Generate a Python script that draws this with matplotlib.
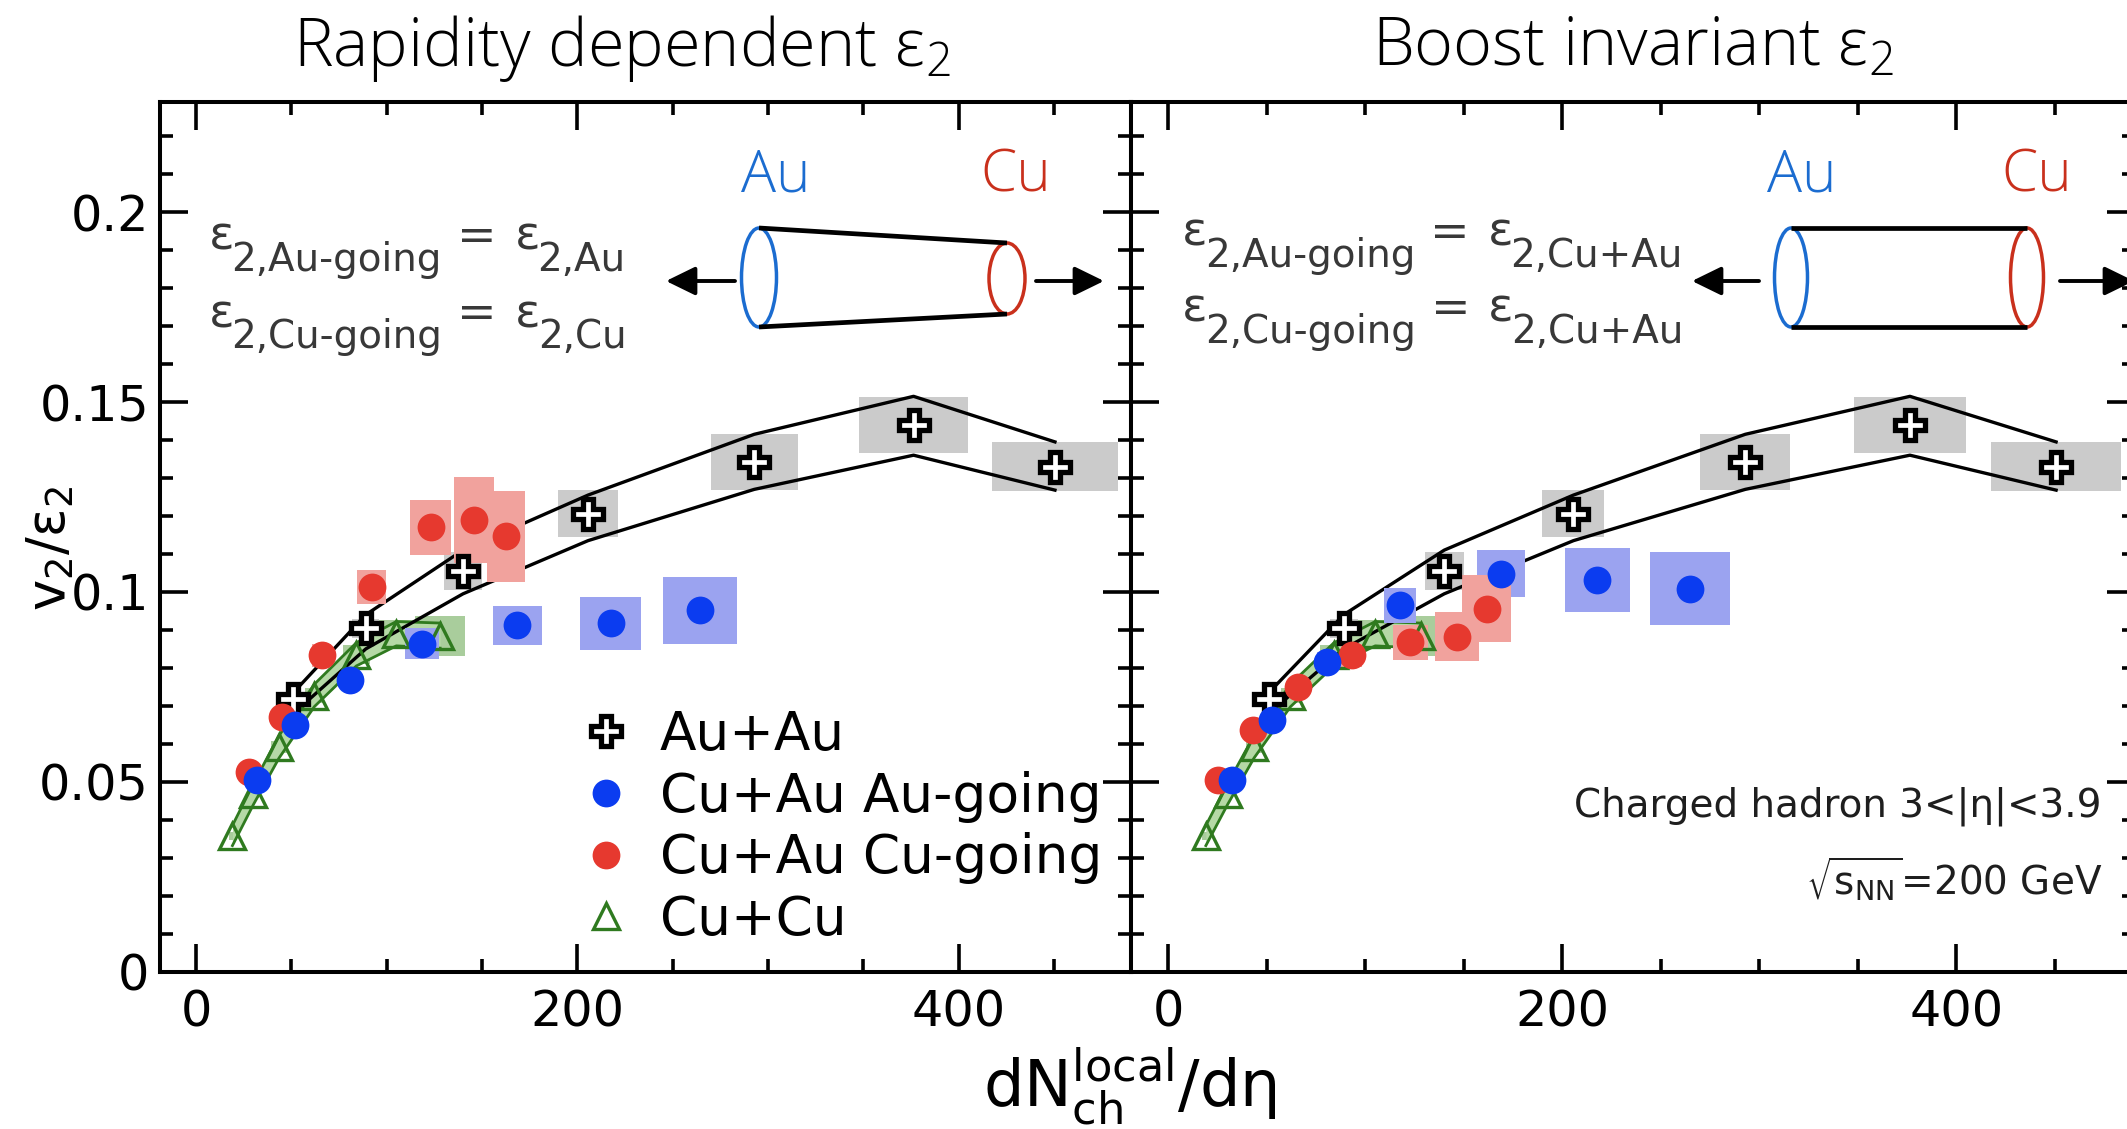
import matplotlib
matplotlib.use("Agg")
import matplotlib.pyplot as plt
from matplotlib.patches import Rectangle, Ellipse
from matplotlib.lines import Line2D
from matplotlib.ticker import MultipleLocator

W, H, DPI = 2127, 1129, 100

plt.rcParams["font.family"] = ["DejaVu Sans"]
plt.rcParams["mathtext.default"] = "regular"

# ---------------- data ----------------
# Au+Au (shared by both panels)
auau_x = [51, 89, 140, 205.6, 292.8, 376.4, 450.6]
auau_y = [0.0717, 0.0904, 0.1055, 0.1206, 0.1342, 0.1439, 0.1329]
auau_sys_w = [10, 14, 20, 31.5, 45.6, 57, 66]
auau_sys_h = [0.004, 0.005, 0.0101, 0.0123, 0.0146, 0.0147, 0.0129]
auau_band_hi = [0.0735, 0.0940, 0.1110, 0.1255, 0.1415, 0.1515, 0.1395]
auau_band_lo = [0.0680, 0.0850, 0.0995, 0.1135, 0.1270, 0.1360, 0.1268]

# Cu+Cu (shared by both panels)
cucu_x = [19, 30, 43.5, 62, 84, 105, 128]
cucu_y = [0.0358, 0.0467, 0.0592, 0.0727, 0.0835, 0.0890, 0.0885]
cucu_hi = [0.0385, 0.0495, 0.0622, 0.0757, 0.0866, 0.0922, 0.0918]
cucu_lo = [0.0332, 0.0440, 0.0563, 0.0698, 0.0805, 0.0858, 0.0852]
cucu_sys_w = [4, 6, 8, 10, 14, 18, 26]
cucu_sys_h = [0.002, 0.002, 0.003, 0.004, 0.005, 0.007, 0.0105]

# Cu+Au, rapidity dependent eps2
rap_au_x = [31.8, 52, 80.8, 118.4, 168.4, 217.4, 264.3]
rap_au_y = [0.0504, 0.0649, 0.0768, 0.0864, 0.0912, 0.0917, 0.0952]
rap_au_sys_w = [5, 7, 10, 17.5, 25.7, 31.8, 38.7]
rap_au_sys_h = [0.003, 0.004, 0.005, 0.0083, 0.0103, 0.0138, 0.0177]
rap_cu_x = [27.5, 45, 65.9, 92, 123, 145.6, 162.5]
rap_cu_y = [0.0526, 0.0671, 0.0833, 0.1013, 0.1170, 0.1190, 0.1147]
rap_cu_sys_w = [5, 7, 10, 14.9, 21.3, 21, 20]
rap_cu_sys_h = [0.003, 0.004, 0.006, 0.0088, 0.0146, 0.0226, 0.0240]

# Cu+Au, boost invariant eps2
bi_au_x = [32.1, 52.4, 80.4, 117.6, 169, 217.8, 264.9]
bi_au_y = [0.0505, 0.0663, 0.0816, 0.0965, 0.1048, 0.1031, 0.1009]
bi_au_sys_w = [5, 7, 10, 16, 24.5, 32.9, 40.4]
bi_au_sys_h = [0.003, 0.004, 0.005, 0.0092, 0.0123, 0.0169, 0.0190]
bi_cu_x = [25.4, 43.1, 66, 93, 122.7, 146.4, 161.6]
bi_cu_y = [0.0505, 0.0636, 0.0750, 0.0833, 0.0868, 0.0882, 0.0956]
bi_cu_sys_w = [5, 7, 9, 11, 17.8, 22, 25]
bi_cu_sys_h = [0.003, 0.003, 0.004, 0.006, 0.0092, 0.0129, 0.0175]

legend_labels = ["Au+Au", "Cu+Au Au-going", "Cu+Au Cu-going", "Cu+Cu"]
panel_titles = ["Rapidity dependent ε$_2$", "Boost invariant ε$_2$"]

# ---------------- style ----------------
C_BLUE = "#0b3cf0"
C_RED = "#e6392f"
C_GREEN = "#2f7a1f"
C_BOX_GRAY = "#cbcbcb"
C_BOX_BLUE = "#9ba3f0"
C_BOX_RED = "#f1a29d"
C_BOX_GREEN = "#a9cd9c"
C_BAND_GREEN = "#b5d9a6"
XLIM = (-19, 490.5)
YLIM = (0, 0.229)
TICK_FS = 35.5

CROSS = dict(marker="P", ms=22, mfc="white", mec="black", mew=3.8)
DOT = dict(marker="o", ms=20, mec="none")
TRI = dict(marker="^", ms=19, mfc="none", mec=C_GREEN, mew=2.4)


def sys_boxes(ax, xs, ys, ws, hs, color, z):
    for x, y, w, h in zip(xs, ys, ws, hs):
        ax.add_patch(Rectangle((x - w / 2, y - h / 2), w, h, facecolor=color,
                               edgecolor="none", zorder=z))


def draw_panel(ax, au_x, au_y, au_w, au_h, cu_x, cu_y, cu_w, cu_h):
    sys_boxes(ax, auau_x, auau_y, auau_sys_w, auau_sys_h, C_BOX_GRAY, 1)
    sys_boxes(ax, cucu_x, cucu_y, cucu_sys_w, cucu_sys_h, C_BOX_GREEN, 1.5)
    ax.fill_between(cucu_x, cucu_lo, cucu_hi, color=C_BAND_GREEN, lw=0, zorder=2)
    ax.plot(cucu_x, cucu_hi, color=C_GREEN, lw=2.0, zorder=2.2)
    ax.plot(cucu_x, cucu_lo, color=C_GREEN, lw=2.0, zorder=2.2)
    ax.plot(auau_x, auau_band_hi, color="black", lw=2.4, zorder=3)
    ax.plot(auau_x, auau_band_lo, color="black", lw=2.4, zorder=3)
    sys_boxes(ax, au_x, au_y, au_w, au_h, C_BOX_BLUE, 4)
    sys_boxes(ax, cu_x, cu_y, cu_w, cu_h, C_BOX_RED, 4)
    ax.plot(cucu_x, cucu_y, ls="none", zorder=5, **TRI)
    ax.plot(auau_x, auau_y, ls="none", zorder=5.2, **CROSS)
    ax.plot(cu_x, cu_y, ls="none", mfc=C_RED, zorder=5.4, **DOT)
    ax.plot(au_x, au_y, ls="none", mfc=C_BLUE, zorder=5.6, **DOT)

    ax.set_xlim(*XLIM)
    ax.set_ylim(*YLIM)
    ax.xaxis.set_major_locator(MultipleLocator(200))
    ax.xaxis.set_minor_locator(MultipleLocator(50))
    ax.yaxis.set_major_locator(MultipleLocator(0.05))
    ax.yaxis.set_minor_locator(MultipleLocator(0.01))
    ax.tick_params(which="both", direction="in", top=True, right=True,
                   width=2.6, labelsize=TICK_FS, colors="black")
    ax.tick_params(which="major", length=20)
    ax.tick_params(which="minor", length=9.5)
    ax.tick_params(axis="x", pad=12)
    ax.tick_params(axis="y", pad=8)
    for s in ax.spines.values():
        s.set_linewidth(2.9)
    ax.yaxis.set_major_formatter(plt.FuncFormatter(
        lambda v, p: "0" if abs(v) < 1e-9 else f"{v:g}"))


fig = plt.figure(figsize=(W / DPI, H / DPI), dpi=DPI)
fig.patch.set_facecolor("white")


def px_axes(x0, x1, y_top, y_bot):
    return fig.add_axes([x0 / W, (H - y_bot) / H, (x1 - x0) / W, (y_bot - y_top) / H])


ax1 = px_axes(160, 1131, 102, 971.7)
ax2 = px_axes(1131, 2134.7, 102, 971.7)

draw_panel(ax1, rap_au_x, rap_au_y, rap_au_sys_w, rap_au_sys_h,
           rap_cu_x, rap_cu_y, rap_cu_sys_w, rap_cu_sys_h)
draw_panel(ax2, bi_au_x, bi_au_y, bi_au_sys_w, bi_au_sys_h,
           bi_cu_x, bi_cu_y, bi_cu_sys_w, bi_cu_sys_h)
ax2.tick_params(labelleft=False)

handles = [
    Line2D([], [], ls="none", **CROSS),
    Line2D([], [], ls="none", mfc=C_BLUE, **DOT),
    Line2D([], [], ls="none", mfc=C_RED, **DOT),
    Line2D([], [], ls="none", **TRI),
]
leg = ax1.legend(handles, legend_labels, loc="upper left",
                 bbox_to_anchor=(0.4318, 0.302), frameon=False, fontsize=38.4,
                 handlelength=1.0, handletextpad=0.51, borderpad=0,
                 borderaxespad=0, labelspacing=0.18)
leg.set_zorder(8)

# ---------------- annotations in pixel coordinates ----------------
ov = fig.add_axes([0, 0, 1, 1], zorder=10)
ov.set_xlim(0, W)
ov.set_ylim(H, 0)
ov.axis("off")
ov.patch.set_alpha(0)
renderer = fig.canvas.get_renderer()

TITLE_FONT = dict(family=["Open Sans", "Roboto", "DejaVu Sans"], fontweight="light")
ov.text(622, 66, panel_titles[0], ha="center", va="baseline", fontsize=48,
        color="black", **TITLE_FONT)
ov.text(1633, 66, panel_titles[1], ha="center", va="baseline", fontsize=48,
        color="black", **TITLE_FONT)

ov.text(50, 548, "v$_2$/ε$_2$", rotation=90, ha="center", va="center",
        fontsize=38, color="black")
ov.text(1130, 1107, "dN$^{local}_{ch}$/dη", ha="center", va="baseline",
        fontsize=46, color="black")


def rich_line(x, y, pieces, color):
    """Place (text, size, baseline shift, gap before) pieces left to right."""
    cx = x
    for s, fs, dy, gap in pieces:
        cx += gap
        t = ov.text(cx, y + dy, s, ha="left", va="baseline", fontsize=fs,
                    color=color)
        cx += t.get_window_extent(renderer=renderer).width


EQ_COLOR = "#383838"
MAIN, SUB, DROP = 34, 28, 21


def eq_pieces(lhs_sub, rhs_sub):
    return [("ε", MAIN, 0, 0), (lhs_sub, SUB, DROP, -3), ("=", MAIN, 0, 15),
            ("ε", MAIN, 0, 18), (rhs_sub, SUB, DROP, -3)]


rich_line(209, 250, eq_pieces("2,Au‐going", "2,Au"), EQ_COLOR)
rich_line(209, 327, eq_pieces("2,Cu‐going", "2,Cu"), EQ_COLOR)
rich_line(1182, 246, eq_pieces("2,Au‐going", "2,Cu+Au"), EQ_COLOR)
rich_line(1182, 322, eq_pieces("2,Cu‐going", "2,Cu+Au"), EQ_COLOR)

ov.text(2102, 817, "Charged hadron 3<|η|<3.9", ha="right", va="baseline",
        fontsize=28, color="#1e1e1e")
ov.text(2102, 895, r"$\sqrt{s_{NN}}$=200 GeV", ha="right", va="baseline",
        fontsize=28, color="#1e1e1e")

# nucleus labels and sketches
C_AU = "#1b6cd0"
C_CU = "#c9301c"
for x, s, c in [(776, "Au", C_AU), (1016, "Cu", C_CU),
                (1802, "Au", C_AU), (2037, "Cu", C_CU)]:
    ov.text(x, 191, s, ha="center", va="baseline", fontsize=42, color=c,
            **TITLE_FONT)

# rapidity-dependent sketch: truncated cone
ov.plot([759, 1007], [228, 243], color="black", lw=3.4, solid_capstyle="butt")
ov.plot([759, 1007], [327, 314], color="black", lw=3.4, solid_capstyle="butt")
ov.add_patch(Ellipse((759, 277.5), 35, 99, fill=False, ec=C_AU, lw=2.5))
ov.add_patch(Ellipse((1007, 278.5), 36, 71, fill=False, ec=C_CU, lw=2.5))

# boost-invariant sketch: cylinder
ov.plot([1791, 2027], [228, 228], color="black", lw=3.4, solid_capstyle="butt")
ov.plot([1791, 2027], [327, 327], color="black", lw=3.4, solid_capstyle="butt")
ov.add_patch(Ellipse((1791, 277.5), 33, 99, fill=False, ec=C_AU, lw=2.5))
ov.add_patch(Ellipse((2027, 277.5), 33, 99, fill=False, ec=C_CU, lw=2.5))

ARROW = dict(arrowstyle="-|>,head_length=0.45,head_width=0.22", lw=2.8,
             color="black", mutation_scale=40, shrinkA=0, shrinkB=0)
for tail, head in [((735, 281), (666, 281)), ((1036, 281), (1104, 281)),
                   ((1759, 281), (1692, 281)), ((2060, 281), (2134, 281))]:
    ov.annotate("", xy=head, xytext=tail, xycoords="data", textcoords="data",
                arrowprops=ARROW, annotation_clip=False)

fig.savefig("out.png", dpi=DPI, facecolor="white")
